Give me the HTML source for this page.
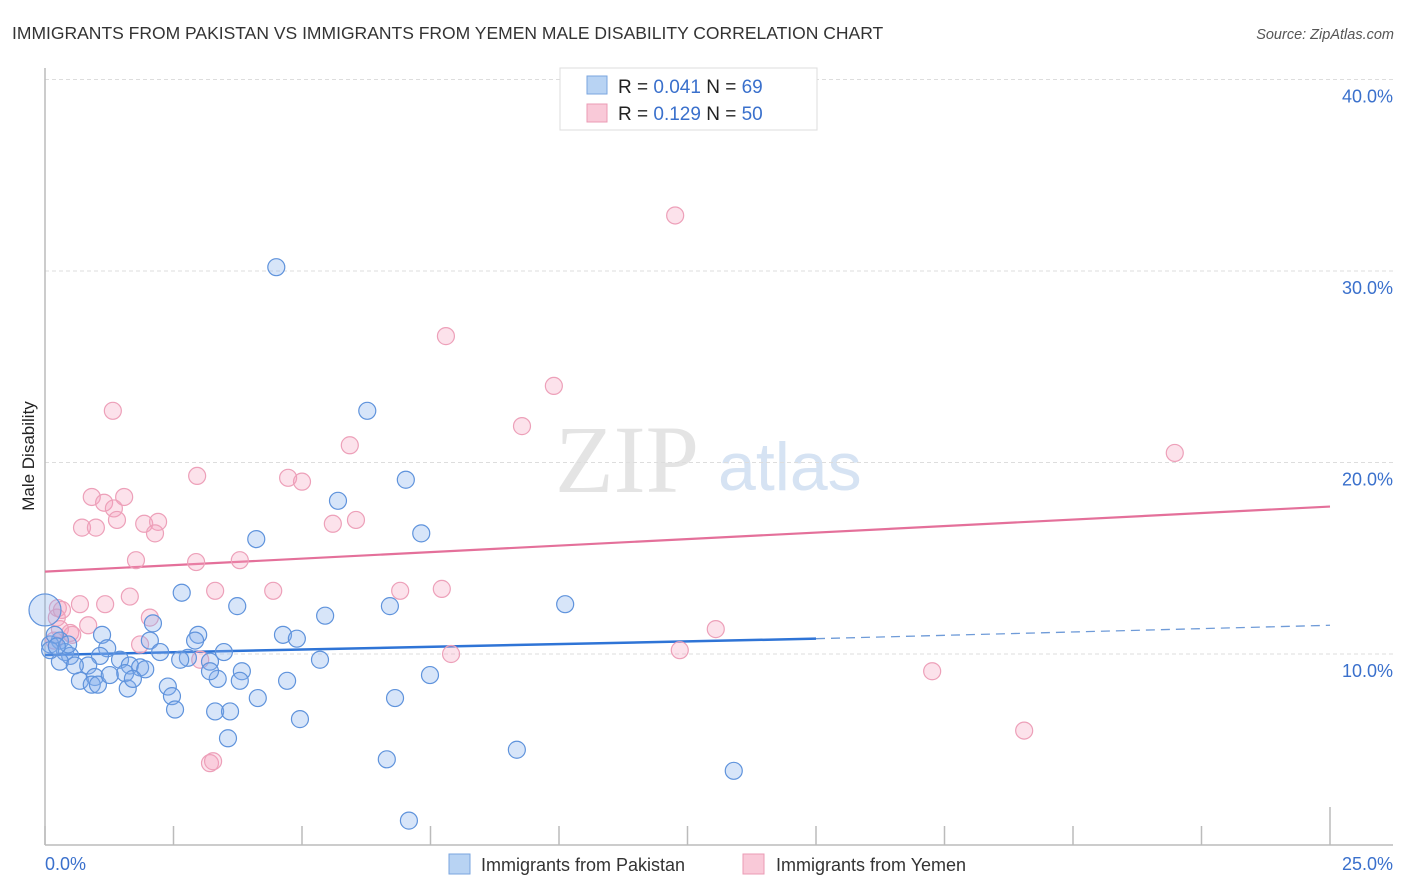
<!DOCTYPE html>
<html><head><meta charset="utf-8"><style>
body{margin:0;background:#fff;font-family:"Liberation Sans",sans-serif;}
svg{display:block}
</style></head><body>
<svg id="chart" width="1406" height="892">
<text x="12" y="39" font-size="17.5" fill="#333">IMMIGRANTS FROM PAKISTAN VS IMMIGRANTS FROM YEMEN MALE DISABILITY CORRELATION CHART</text>
<text x="1394" y="39" font-size="14.5" fill="#555" font-style="italic" text-anchor="end">Source: ZipAtlas.com</text>
<text x="34" y="456" font-size="17" fill="#222" transform="rotate(-90 34 456)" text-anchor="middle">Male Disability</text>
<text x="555" y="492" font-size="96" fill="#e4e4e4" font-family="Liberation Serif,serif">ZIP</text>
<text x="718" y="490" font-size="68" fill="#d6e3f3">atlas</text>
<g id="grid"></g><g id="axes"></g><g id="trends"></g><g id="pts"></g>
<g>
<rect x="560" y="68" width="257" height="62" fill="#fff" stroke="#ddd"/>
<rect x="587" y="76" width="20" height="18" fill="#b8d3f3" stroke="#7aa6df"/>
<rect x="587" y="104" width="20" height="18" fill="#f9c9d8" stroke="#eb9bb5"/>
<text x="618" y="93" font-size="19" fill="#222">R = <tspan fill="#3a70cc">0.041</tspan>   N = <tspan fill="#3a70cc">69</tspan></text>
<text x="618" y="120" font-size="19" fill="#222">R =  <tspan fill="#3a70cc">0.129</tspan>   N = <tspan fill="#3a70cc">50</tspan></text>
</g>
<g>
<rect x="449" y="854" width="21" height="20" fill="#b8d3f3" stroke="#7aa6df"/>
<text x="481" y="871" font-size="18" fill="#333">Immigrants from Pakistan</text>
<rect x="743" y="854" width="21" height="20" fill="#f9c9d8" stroke="#eb9bb5"/>
<text x="776" y="871" font-size="18" fill="#333">Immigrants from Yemen</text>
</g>
</svg>
<script>
const yTicks=[10,20,30,40];
const xTickLabels=["0.0%","25.0%"];
const blueX=[4.5,6.27,7.02,5.70,7.32,4.11,10.12,6.71,3.74,2.66,5.45,2.10,1.11,2.98,4.63,4.90,2.04,2.92,3.48,1.21,0.29,0.10,0.19,0.39,0.49,1.07,1.46,1.65,2.24,2.78,2.63,3.21,3.83,5.35,1.85,1.95,1.56,0.84,0.68,0.97,0.91,1.61,1.71,1.03,1.26,2.39,2.47,2.53,3.36,3.79,4.71,7.49,4.14,6.81,3.31,3.60,4.96,3.56,9.18,6.65,13.4,7.08,0.0,0.29,0.58,3.21,0.45,0.10,0.23];
const blueY=[30.2,22.7,19.1,18.0,16.3,16.0,12.6,12.5,12.5,13.2,12.0,11.6,11.0,11.0,11.0,10.8,10.7,10.7,10.1,10.3,10.7,10.5,11.0,10.1,9.9,9.9,9.7,9.4,10.1,9.8,9.7,9.6,9.1,9.7,9.3,9.2,9.0,9.4,8.6,8.8,8.4,8.2,8.7,8.4,8.9,8.3,7.8,7.1,8.7,8.6,8.6,8.9,7.7,7.7,7.0,7.0,6.6,5.6,5.0,4.5,3.9,1.3,12.3,9.6,9.4,9.1,10.5,10.2,10.4];
const pinkX=[12.26,7.80,9.90,1.32,9.28,5.93,2.96,4.73,5.00,21.98,0.91,1.54,1.15,1.34,1.40,1.93,2.20,0.72,0.99,5.60,6.05,2.14,1.77,2.94,3.79,3.31,4.44,6.91,7.72,1.65,0.68,1.17,0.25,2.04,0.84,0.49,0.29,1.85,3.02,7.90,12.35,13.05,17.26,19.05,3.21,3.27,0.23,0.33,0.18,0.53];
const pinkY=[32.9,26.6,24.0,22.7,21.9,20.9,19.3,19.2,19.0,20.5,18.2,18.2,17.9,17.6,17.0,16.8,16.9,16.6,16.6,16.8,17.0,16.3,14.9,14.8,14.9,13.3,13.3,13.3,13.4,13.0,12.6,12.6,12.4,11.9,11.5,11.1,11.3,10.5,9.7,10.0,10.2,11.3,9.1,6.0,4.3,4.4,11.9,12.3,10.7,11.0];
const blueTrend=[0,9.95,15,10.8,25,11.5];
const pinkTrend=[0,14.3,25,17.7];
const X=v=>45+v*51.4, Y=v=>845.5-v*19.15;
const NS="http://www.w3.org/2000/svg";
function mk(tag,attrs,parent){const e=document.createElementNS(NS,tag);for(const k in attrs)e.setAttribute(k,attrs[k]);document.getElementById(parent).appendChild(e);return e;}
yTicks.forEach(t=>{
 const l=mk('line',{x1:45,x2:1393,y1:Y(t),y2:Y(t),stroke:'#ddd','stroke-dasharray':'4 3'},'grid');
 
 
 const tx=mk('text',{x:1393,y:Y(t)+23,'font-size':18,fill:'#3a70cc','text-anchor':'end'},'grid');
 tx.textContent=t.toFixed(1)+'%';
 
 
});
const ax=mk('line',{x1:45,x2:1393,y1:845,y2:845,stroke:'#bbb','stroke-width':1.5},'axes');


const ay=mk('line',{x1:45,x2:45,y1:68,y2:845,stroke:'#bbb','stroke-width':1.5},'axes');


for(let i=0;i<=10;i++){const v=i*2.5;
 const t=mk('line',{x1:X(v),x2:X(v),y1:i==10?807:826,y2:845,stroke:'#bbb','stroke-width':1.5},'axes');
 
 }
const xl0=mk('text',{x:45,y:870,'font-size':18,fill:'#3a70cc'},'axes');xl0.textContent=xTickLabels[0];


const xl1=mk('text',{x:1393,y:870,'font-size':18,fill:'#3a70cc','text-anchor':'end'},'axes');xl1.textContent=xTickLabels[1];


pinkX.forEach((x,i)=>{const c=mk('circle',{cx:X(x),cy:Y(pinkY[i]),r:8.5,fill:'rgba(245,160,190,0.3)',stroke:'#eda0b9','stroke-width':1.2},'pts');
 
 });
blueX.forEach((x,i)=>{const c=mk('circle',{cx:X(x),cy:Y(blueY[i]),r:i==62?16:8.5,fill:'rgba(130,175,235,0.32)',stroke:'#5f93dc','stroke-width':1.2},'pts');
 
 });
const bt1=mk('line',{x1:X(blueTrend[0]),y1:Y(blueTrend[1]),x2:X(blueTrend[2]),y2:Y(blueTrend[3]),stroke:'#2f74d6','stroke-width':2.5},'trends');


const bt2=mk('line',{x1:X(blueTrend[2]),y1:Y(blueTrend[3]),x2:X(blueTrend[4]),y2:Y(blueTrend[5]),stroke:'#6f9bd8','stroke-width':1.3,'stroke-dasharray':'9 6'},'trends');


const pt=mk('line',{x1:X(pinkTrend[0]),y1:Y(pinkTrend[1]),x2:X(pinkTrend[2]),y2:Y(pinkTrend[3]),stroke:'#e4709a','stroke-width':2.2},'trends');


</script>
</body></html>
